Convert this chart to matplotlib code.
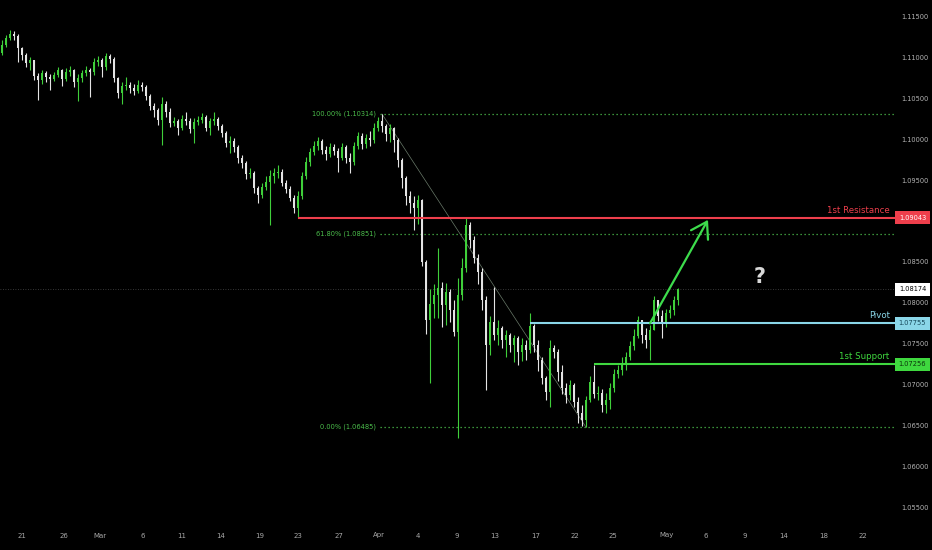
import matplotlib
matplotlib.use("Agg")
import matplotlib.pyplot as plt
from matplotlib.patches import Rectangle

# 4h candles
first_open = 1.1106
closes = [
    1.1116, 1.1124, 1.1129, 1.1127, 1.1112, 1.1104, 1.1094, 1.1097, 1.1078, 1.1073,
    1.1081, 1.1077, 1.1074, 1.1079, 1.1085, 1.1074, 1.1083, 1.1085, 1.1071, 1.1075,
    1.1081, 1.1085, 1.1083, 1.1095, 1.1097, 1.1089, 1.1102, 1.1099, 1.1075, 1.1057,
    1.1066, 1.1067, 1.1063, 1.1060, 1.1067, 1.1065, 1.1053, 1.1041, 1.1036, 1.1024,
    1.1044, 1.1034, 1.1020, 1.1023, 1.1014, 1.1025, 1.1023, 1.1013, 1.1022, 1.1024,
    1.1028, 1.1014, 1.1023, 1.1025, 1.1017, 1.1008, 1.0996, 1.0998, 1.0991, 1.0978,
    1.0971, 1.0958, 1.0959, 1.0941, 1.0932, 1.0942, 1.0948, 1.0956, 1.0959, 1.0961,
    1.0947, 1.0940, 1.0929, 1.0917, 1.0931, 1.0956, 1.0973, 1.0985, 1.0992, 1.0998,
    1.0987, 1.0983, 1.0991, 1.0986, 1.0978, 1.0991, 1.0978, 1.0973, 1.0992, 1.1004,
    1.0995, 1.1002, 1.1000, 1.1014, 1.1023, 1.1017, 1.1007, 1.1014, 1.1000, 1.0975,
    1.0953, 1.0931, 1.0923, 1.0917, 1.0926, 1.0850, 1.0780, 1.0799, 1.0810, 1.0819,
    1.0798, 1.0814, 1.0792, 1.0765, 1.0810, 1.0843, 1.0896, 1.0877, 1.0855, 1.0838,
    1.0804, 1.0749, 1.0777, 1.0761, 1.0770, 1.0755, 1.0761, 1.0749, 1.0757, 1.0741,
    1.0749, 1.0743, 1.0772, 1.0749, 1.0731, 1.0709, 1.0691, 1.0745, 1.0741, 1.0716,
    1.0696, 1.0688, 1.0700, 1.0679, 1.0666, 1.0657, 1.0682, 1.0704, 1.0689, 1.0690,
    1.0676, 1.0682, 1.0696, 1.0714, 1.0719, 1.0725, 1.0734, 1.0748, 1.0760, 1.0780,
    1.0761, 1.0755, 1.0767, 1.0804, 1.0784, 1.0777, 1.0788, 1.0792, 1.0804, 1.08174,
]
highs = [
    1.1122, 1.1128, 1.1134, 1.1133, 1.1129, 1.1113, 1.1106, 1.1101, 1.1097, 1.1081,
    1.1085, 1.1084, 1.1080, 1.1083, 1.1089, 1.1086, 1.1088, 1.1090, 1.1086, 1.1080,
    1.1085, 1.1090, 1.1088, 1.1100, 1.1102, 1.1100, 1.1106, 1.1105, 1.1101, 1.1077,
    1.1071, 1.1077, 1.1071, 1.1068, 1.1073, 1.1071, 1.1067, 1.1056, 1.1045, 1.1039,
    1.1052, 1.1047, 1.1039, 1.1028, 1.1025, 1.1030, 1.1034, 1.1026, 1.1026, 1.1029,
    1.1033, 1.1030, 1.1026, 1.1034, 1.1028, 1.1019, 1.1011, 1.1004, 1.1002, 1.0993,
    1.0981, 1.0974, 1.0965, 1.0962, 1.0943, 1.0947, 1.0956, 1.0963, 1.0965, 1.0969,
    1.0964, 1.0951, 1.0943, 1.0932, 1.0937, 1.0961, 1.0979, 1.0990, 1.0998, 1.1003,
    1.1001, 1.0992, 1.0996, 1.0995, 1.0990, 1.0996, 1.0993, 1.0984, 1.0997, 1.1009,
    1.1008, 1.1007, 1.1011, 1.1020, 1.1028, 1.10314, 1.1019, 1.1019, 1.1016, 1.1002,
    1.0978, 1.0956, 1.0937, 1.0931, 1.0932, 1.0927, 1.0853, 1.0817, 1.0823, 1.0868,
    1.0826, 1.0825, 1.0817, 1.0804, 1.0831, 1.0855, 1.09043, 1.0899, 1.0882, 1.0860,
    1.0843, 1.0809, 1.0784, 1.0820, 1.0780, 1.0772, 1.0767, 1.0764, 1.0761, 1.0760,
    1.0757, 1.0755, 1.0788, 1.0775, 1.0755, 1.0734, 1.0711, 1.0755, 1.0749, 1.0744,
    1.0725, 1.0703, 1.0706, 1.0703, 1.0685, 1.0676, 1.0687, 1.0711, 1.0725, 1.0699,
    1.0695, 1.0690, 1.0703, 1.0720, 1.0725, 1.0734, 1.0741, 1.0754, 1.0769, 1.0784,
    1.0780, 1.0770, 1.0774, 1.0809, 1.0802, 1.0792, 1.0793, 1.0798, 1.0809, 1.0819,
]
lows = [
    1.1104, 1.1113, 1.1122, 1.1122, 1.1095, 1.1097, 1.1089, 1.1085, 1.1073, 1.1048,
    1.1068, 1.1071, 1.1061, 1.1072, 1.1077, 1.1066, 1.1072, 1.1078, 1.1065, 1.1047,
    1.1071, 1.1078, 1.1052, 1.1079, 1.1090, 1.1077, 1.1085, 1.1094, 1.1071, 1.1051,
    1.1044, 1.1061, 1.1057, 1.1055, 1.1057, 1.1060, 1.1048, 1.1036, 1.1028, 1.1018,
    1.0993, 1.1028, 1.1016, 1.1017, 1.1006, 1.1012, 1.1018, 1.1008, 1.0996, 1.1018,
    1.1020, 1.1011, 1.1006, 1.1018, 1.1012, 1.1003, 1.0991, 1.0984, 1.0985, 1.0972,
    1.0965, 1.0952, 1.0953, 1.0935, 1.0923, 1.0929, 1.0938, 1.0896, 1.0947, 1.0953,
    1.0943, 1.0935, 1.0925, 1.0910, 1.0904, 1.0927, 1.0952, 1.0968, 1.0981, 1.0987,
    1.0983, 1.0975, 1.0979, 1.0981, 1.0961, 1.0975, 1.0971, 1.0959, 1.0969, 1.0989,
    1.0989, 1.0990, 1.0992, 1.0996, 1.1011, 1.1009, 1.0998, 1.0997, 1.0985, 1.0967,
    1.0941, 1.0920, 1.0910, 1.0890, 1.0897, 1.0846, 1.0762, 1.0703, 1.0782, 1.0782,
    1.0771, 1.0774, 1.0777, 1.0760, 1.0635, 1.0804, 1.0838, 1.0868, 1.0849, 1.0823,
    1.0792, 1.0694, 1.0737, 1.0755, 1.0749, 1.0745, 1.0734, 1.0741, 1.0728, 1.0725,
    1.0730, 1.0731, 1.0739, 1.0741, 1.0717, 1.0701, 1.0682, 1.0673, 1.0733, 1.0705,
    1.0689, 1.0678, 1.0682, 1.0673, 1.0654, 1.0650, 1.06485, 1.0679, 1.0684, 1.0682,
    1.0667, 1.0666, 1.0671, 1.0691, 1.0709, 1.0712, 1.0719, 1.0731, 1.0743, 1.0757,
    1.0751, 1.0745, 1.0731, 1.0767, 1.0778, 1.0757, 1.0771, 1.0782, 1.0786, 1.0798,
]

date_pos = [5, 15.5, 24.5, 35.25, 45, 54.75, 64.5, 74, 84.25, 94.25, 104,
            113.75, 123.25, 133.5, 143.25, 152.75, 166.25, 176, 185.75, 195.5,
            205.5, 215.25]
date_labels = ["21", "26", "Mar", "6", "11", "14", "19", "23", "27", "Apr", "4",
               "9", "13", "17", "22", "25", "May", "6", "9", "14", "18", "22"]
price_ticks = [1.115, 1.110, 1.105, 1.100, 1.095, 1.085, 1.080, 1.075,
               1.070, 1.065, 1.060, 1.055]

resistance = 1.09043
pivot = 1.07755
support = 1.07256
last_price = 1.08174
fib_prices = [1.10314, 1.08851, 1.06485]
fib_names = ["100.00%", "61.80%", "0.00%"]

# bar indices where drawings start
res_start, pivot_start, sup_start = 74, 132, 148
fib_start, fib_end_bar = 94.5, 146
arrow_from, arrow_to = (162, pivot), (176.5, 1.0902)
qmark = (189.5, 1.0832)

UP = "#3fcf3a"
DOWN = "#e4e4e4"
RED = "#ee3f4c"
BLUE = "#8ad6e8"
GREEN = "#3fd83f"
FIB = "#4cbf4c"
GREY = "#b4b4b4"

fig = plt.figure(figsize=(9.32, 5.5), dpi=100, facecolor="black")
ax = fig.add_axes([0, 30 / 550, 895 / 932, 520 / 550])
ax.set_facecolor("black")
for s in ax.spines.values():
    s.set_visible(False)

ax.set_xlim(-0.5, 223.25)
ax.set_ylim(1.053508, 1.117078)

# candles
opens = [first_open] + closes[:-1]
for i, (o, h, l, c) in enumerate(zip(opens, highs, lows, closes)):
    col = UP if c >= o else DOWN
    ax.vlines(i, l, h, color=col, lw=0.8, zorder=3)
    ax.bar(i, max(abs(c - o), 0.00005), bottom=min(o, c), width=0.72,
           color=col, linewidth=0, zorder=3)

# last price dotted line
ax.axhline(last_price, color="#4a4a4a", lw=0.6, ls=(0, (1, 2)), zorder=1)

# fibonacci levels
for p, name in zip(fib_prices, fib_names):
    ax.plot([fib_start, 223.25], [p, p], color=FIB, lw=0.9, ls=(0, (1, 2.2)), zorder=2)
    ax.annotate(f"{name} ({p:.5f})", xy=(fib_start, p), xytext=(-3, 0),
                textcoords="offset points", ha="right", va="center",
                color=FIB, fontsize=4.8)
ax.plot([fib_start + 0.5, fib_end_bar], [fib_prices[0], fib_prices[2]],
        color="#6a7a6a", lw=0.5, zorder=2)

# levels
levels = [(resistance, res_start, RED, "1st Resistance", "white"),
          (pivot, pivot_start, BLUE, "Pivot", "#16485a"),
          (support, sup_start, GREEN, "1st Support", "#0b360b")]
trans = ax.get_yaxis_transform()
for p, start, col, name, tcol in levels:
    ax.plot([start, 223.25], [p, p], color=col, lw=1.5, zorder=4,
            solid_capstyle="butt")
    ax.annotate(name, xy=(0.994, p), xycoords=trans, xytext=(0, 2.5),
                textcoords="offset points", ha="right", va="bottom",
                color=col, fontsize=6.2)

# arrow and question mark
ax.annotate("", xy=arrow_to, xytext=arrow_from,
            arrowprops=dict(arrowstyle="->,head_length=0.55,head_width=0.35",
                            color="#3ddc4c", lw=1.6, mutation_scale=20,
                            shrinkA=0, shrinkB=0), zorder=5)
ax.text(qmark[0], qmark[1], "?", color="#d8d8d8", fontsize=15,
        fontweight="bold", ha="center", va="center")

# price scale
for p in price_ticks:
    ax.text(901 / 895, p, f"{p:.5f}", transform=trans, color=GREY,
            fontsize=4.8, ha="left", va="center", clip_on=False)

half = 6.5 * (1.117078 - 1.053508) / 520
boxes = [(resistance, RED, "white"), (last_price, "white", "black"),
         (pivot, BLUE, "#16485a"), (support, GREEN, "#0b360b")]
for p, bg, tc in boxes:
    ax.add_patch(Rectangle((1.0, p - half), 35 / 895, 2 * half, transform=trans,
                           facecolor=bg, edgecolor="none", clip_on=False, zorder=6))
    ax.text(912.5 / 895, p, f"{p:.5f}", transform=trans, color=tc, fontsize=4.8,
            ha="center", va="center", clip_on=False, zorder=7)

# time axis
ax.set_yticks([])
ax.set_xticks(date_pos)
ax.set_xticklabels(date_labels)
ax.tick_params(axis="x", length=0, pad=9, labelsize=5, labelcolor="#a8a8a8")

fig.savefig("out.png", dpi=100, facecolor="black")
